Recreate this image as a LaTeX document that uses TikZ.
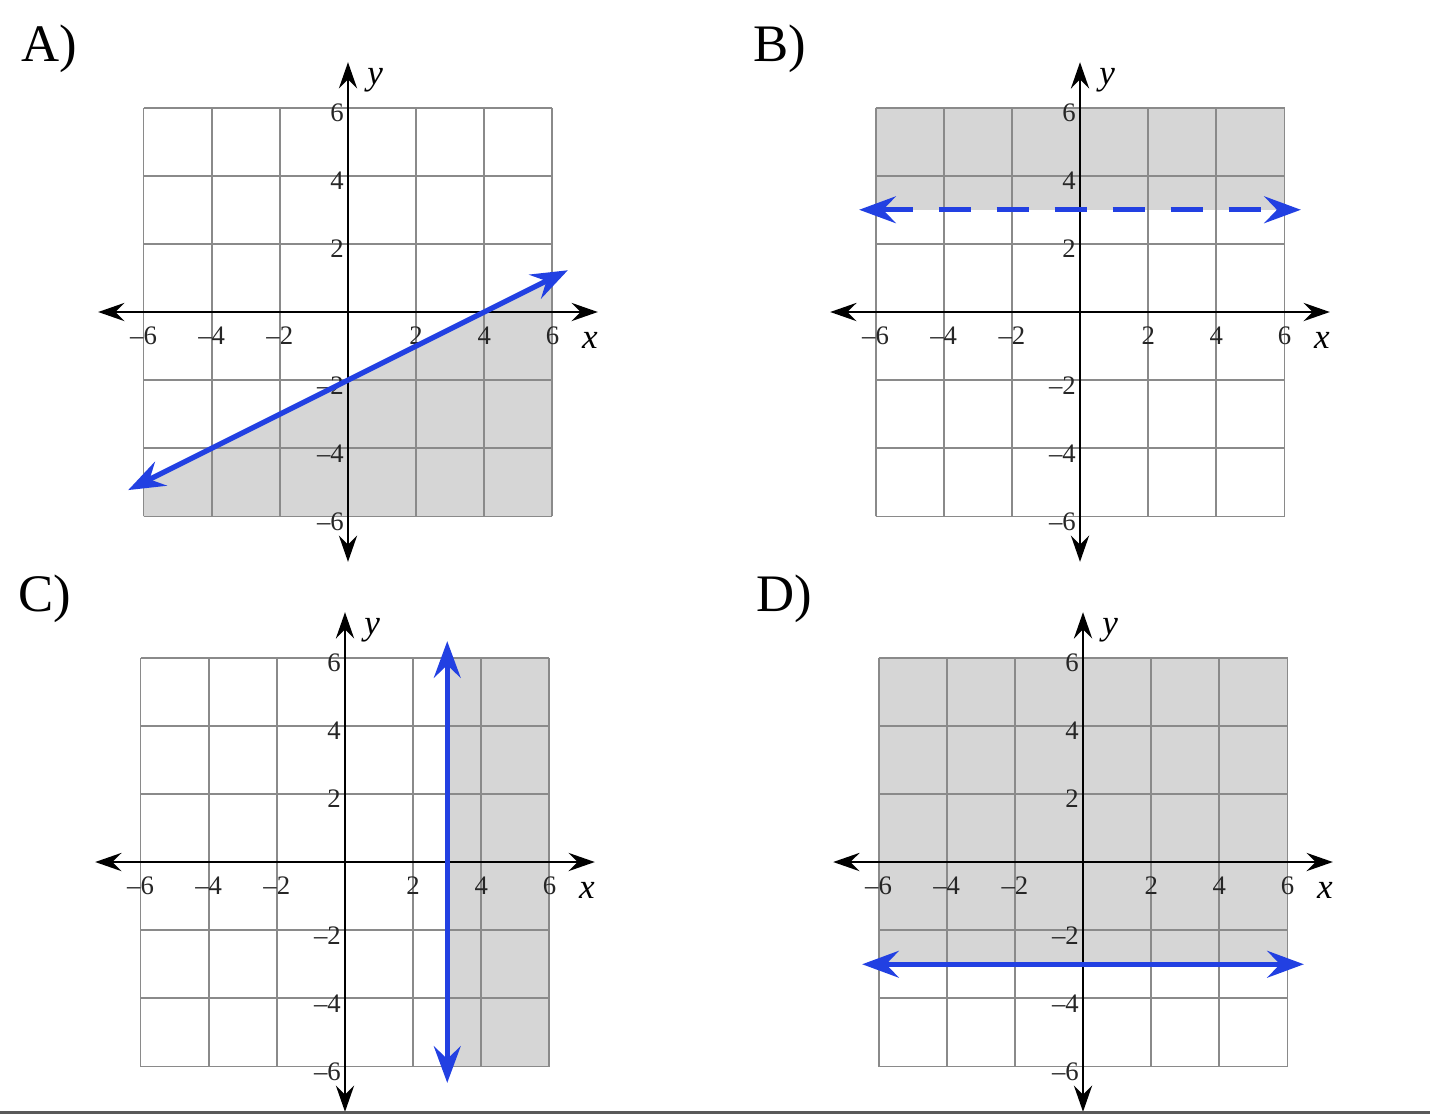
\documentclass[tikz,border=0pt]{standalone}
\usepackage{fontspec}
\setmainfont{Liberation Serif}
\usepackage{tikz}
\usetikzlibrary{arrows.meta}

\definecolor{lineblue}{RGB}{34,64,226}
\definecolor{shadegray}{RGB}{214,214,214}
\definecolor{gridgray}{RGB}{138,138,138}

\begin{document}
\begin{tikzpicture}[>=Stealth, every node/.style={font=\fontsize{7.6}{9}\selectfont, text=black!85},
  panel/.style={x=0.3408cm, y=0.3408cm},
  axis/.style={line width=0.7pt, {Stealth[length=7.5pt,width=5.2pt,inset=2.6pt]}-{Stealth[length=7.5pt,width=5.2pt,inset=2.6pt]}},
  boundary/.style={lineblue, line width=1.5pt, {Stealth[length=10.4pt,width=7.6pt,inset=3.6pt]}-{Stealth[length=10.4pt,width=7.6pt,inset=3.6pt]}},
  tagfont/.style={font=\fontsize{15}{18}\selectfont, text=black, anchor=base west, inner sep=0pt},
  varfont/.style={font=\fontsize{10}{12}\selectfont\itshape, text=black}]
  \useasboundingbox (0,0) rectangle (14.30,-11.14);
  % shaded half-planes
  \begin{scope}[shift={(3.48,-3.12)}, panel]
    \fill[shadegray] (-6,-6) -- (6,-6) -- (6,1) -- (-6,-5) -- cycle;
  \end{scope}
  \begin{scope}[shift={(10.80,-3.12)}, panel]
    \fill[shadegray] (-6,3) rectangle (6,6);
  \end{scope}
  \begin{scope}[shift={(3.45,-8.62)}, panel]
    \fill[shadegray] (3,-6) rectangle (6,6);
  \end{scope}
  \begin{scope}[shift={(10.83,-8.62)}, panel]
    \fill[shadegray] (-6,-3) rectangle (6,6);
  \end{scope}
  % grids, axes and tick labels
  \foreach \ox/\oy/\lab in {3.48/-3.12/A, 10.80/-3.12/B, 3.45/-8.62/C, 10.83/-8.62/D} {
    \begin{scope}[shift={(\ox,\oy)}, panel]
      \draw[gridgray, line width=0.55pt] (-6,-6) grid[step=2] (6,6);
      \draw[axis] (-7.33,0) -- (7.33,0);
      \draw[axis] (0,-7.33) -- (0,7.33);
      \foreach \t in {2,4,6} {
        \node (xp\t) at (\t,-0.7) {\t};
        \node (xn\t) at (-\t,-0.7) {–\t};
        \node[anchor=east, inner sep=1pt] (yp\t) at (0,\t-0.15) {\t};
        \node[anchor=east, inner sep=1pt] (yn\t) at (0,-\t-0.15) {–\t};
      }
      \node[varfont] (xvar\lab) at (7.1,-0.82) {x};
      \node[varfont] (yvar\lab) at (0.8,6.8) {y};
      \node[tagfont] (tag\lab) at (-9.6,7.34) {\lab)};
    \end{scope}
  }
  % boundary lines
  \begin{scope}[shift={(3.48,-3.12)}, panel]
    \draw[boundary] (-6.45,-5.225) -- (6.45,1.225);
  \end{scope}
  \begin{scope}[shift={(10.80,-3.12)}, panel]
    \draw[boundary, dash pattern=on 9.1pt off 7.4pt] (-6.48,3) -- (6.48,3);
  \end{scope}
  \begin{scope}[shift={(3.45,-8.62)}, panel]
    \draw[boundary] (3,-6.48) -- (3,6.48);
  \end{scope}
  \begin{scope}[shift={(10.83,-8.62)}, panel]
    \draw[boundary] (-6.48,-3) -- (6.48,-3);
  \end{scope}
  % page edge
  \draw[black!65, line width=0.75pt] (0,-11.125) -- (14.30,-11.125);
\end{tikzpicture}
\end{document}
